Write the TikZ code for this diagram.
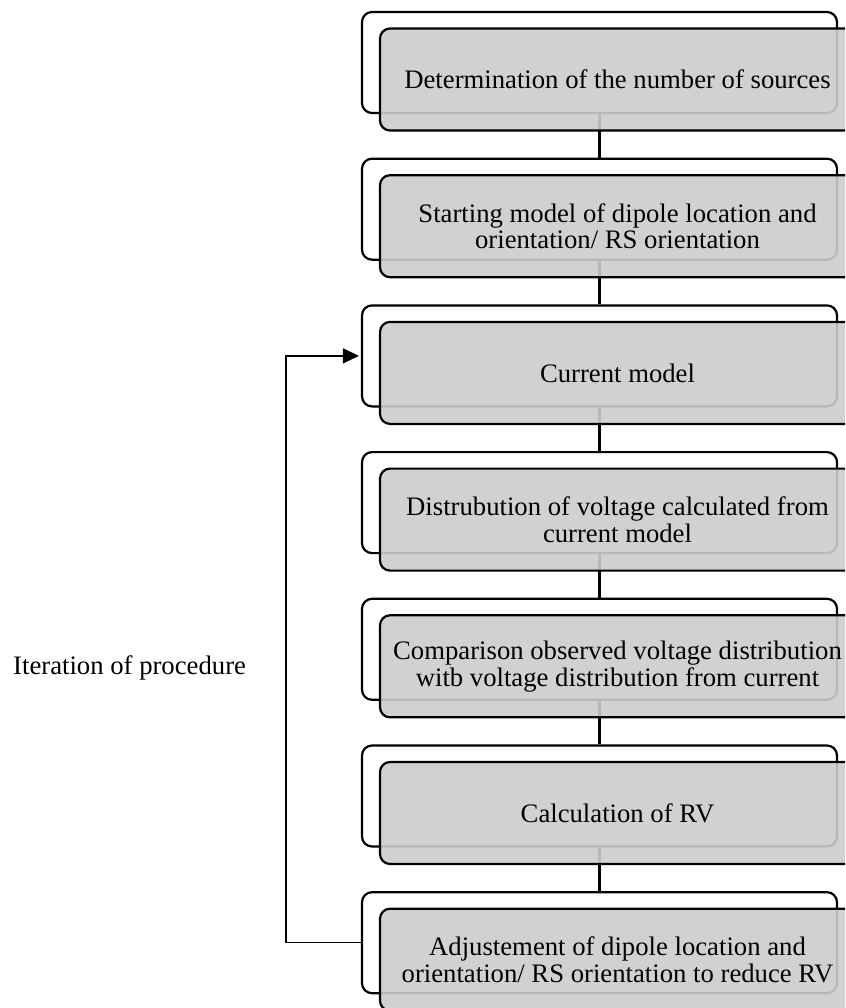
\documentclass[tikz,border=0pt]{standalone}
\usepackage{fontspec}
\setmainfont{Liberation Serif}
\usepackage{tikz}
\usetikzlibrary{arrows.meta,positioning}
\tikzset{
  backbox/.style={draw, line width=2.2pt, fill=white, rounded corners=10pt, minimum width=475pt, minimum height=101pt},
  frontbox/.style={draw, line width=2.2pt, fill=black!20, fill opacity=0.9, text opacity=1, rounded corners=10pt, minimum width=475pt, minimum height=102pt, align=center, font=\fontsize{26.7}{26.7}\selectfont},
  link/.style={line width=2.2pt},
  loopline/.style={line width=1.2pt}
}

\begin{document}
\begin{tikzpicture}[x=1pt, y=-1pt]
        \path[use as bounding box, clip] (0,0) rectangle (845,1008);

        % back frames
        \node[backbox] (b1) at (599.5,62.5) {};
        \node[backbox] (b2) at (599.5,209.2) {};
        \node[backbox] (b3) at (599.5,355.9) {};
        \node[backbox] (b4) at (599.5,502.6) {};
        \node[backbox] (b5) at (599.5,649.3) {};
        \node[backbox] (b6) at (599.5,796) {};
        \node[backbox] (b7) at (599.5,942.7) {};

        % vertical links between the steps
        \draw[link] (b1) -- (b2);
        \draw[link] (b2) -- (b3);
        \draw[link] (b3) -- (b4);
        \draw[link] (b4) -- (b5);
        \draw[link] (b5) -- (b6);
        \draw[link] (b6) -- (b7);

        % grey step boxes with the texts
        \node[frontbox] (sources) at (617.5,79.5) {Determination of the number of sources};
        \node[frontbox] (start) at (617.5,226.2) {Starting model of dipole location and\\orientation/ RS orientation};
        \node[frontbox] (current) at (617.5,372.9) {Current model};
        \node[frontbox] (distrib) at (617.5,519.6) {Distrubution of voltage calculated from\\current model};
        \node[frontbox] (compare) at (617.5,666.3) {Comparison observed voltage distribution\\witb voltage distribution from current};
        \node[frontbox] (rv) at (617.5,813) {Calculation of RV};
        \node[frontbox] (adjust) at (617.5,959.7) {Adjustement of dipole location and\\orientation/ RS orientation to reduce RV};

        % iteration loop
        \coordinate (loop) at (286,650);
        \draw[loopline, -{Triangle[length=16pt, width=15pt]}, shorten >=2pt] (b7.west) -| (loop) |- (b3.west);
        \node[anchor=base west, inner sep=0pt, font=\fontsize{26.7}{26.7}\selectfont] (iter) at (13,674) {Iteration of procedure};
    \end{tikzpicture}
\end{document}
